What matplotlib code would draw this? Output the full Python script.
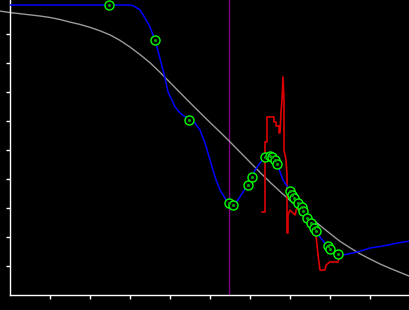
import matplotlib
matplotlib.use("Agg")
import matplotlib.pyplot as plt

# grey sigmoid reference curve
grey_x = [-0.25, 0.0, 0.25, 0.5, 0.75, 1.0, 1.25, 1.5, 1.75, 2.0, 2.25, 2.5, 2.75,
          3.0, 3.25, 3.5, 3.75, 4.0, 4.25, 4.5, 4.75, 5.0, 5.25, 5.5, 5.75, 6.0,
          6.25, 6.5, 6.75, 7.0, 7.25, 7.5, 7.75, 8.0, 8.25, 8.5, 8.75, 9.0, 9.25,
          9.5, 9.75, 10.0]
grey_y = [9.79, 9.74, 9.70, 9.66, 9.62, 9.57, 9.50, 9.41, 9.33, 9.23, 9.11, 8.97, 8.78,
          8.55, 8.29, 8.01, 7.68, 7.33, 6.98, 6.63, 6.29, 5.95, 5.62, 5.28, 4.93, 4.58,
          4.23, 3.89, 3.57, 3.26, 2.96, 2.68, 2.40, 2.12, 1.85, 1.63, 1.42, 1.24, 1.07,
          0.92, 0.78, 0.64]

# blue smooth curve
blue_x = [0.0, 2.875, 3.0, 3.075, 3.25, 3.375, 3.5, 3.625, 3.725, 3.825, 3.875, 3.95, 4.05,
          4.125, 4.25, 4.35, 4.425, 4.475, 4.625, 4.75, 4.875, 5.0, 5.125, 5.25, 5.375, 5.475,
          5.575, 5.7, 5.825, 5.95, 6.05, 6.125, 6.25, 6.35, 6.45, 6.55, 6.675, 6.825,
          7.0, 7.2, 7.425, 7.65, 7.75, 7.875, 7.975, 8.075, 8.2, 8.325, 8.675, 9.0,
          9.325, 9.675, 10.0]
blue_y = [10.0, 10.0, 9.995, 9.98, 9.83, 9.55, 9.24, 8.79, 8.28, 7.76, 7.48, 7.0, 6.72,
          6.48, 6.28, 6.17, 6.10, 6.03, 5.93, 5.69, 5.24, 4.66, 4.07, 3.62, 3.34, 3.17,
          3.07, 3.28, 3.55, 3.79, 4.03, 4.31, 4.55, 4.72, 4.79, 4.76, 4.52, 3.97,
          3.59, 3.17, 2.66, 2.21, 2.0, 1.79, 1.62, 1.48, 1.41, 1.38, 1.48, 1.62,
          1.69, 1.79, 1.86]

# green sample points
pts_x = [2.475, 3.625, 4.475, 5.475, 5.575, 5.95, 6.05, 6.375, 6.5, 6.55, 6.625, 6.675,
         7.0, 7.05, 7.1, 7.2, 7.3, 7.325, 7.425, 7.525, 7.6, 7.65, 7.95, 8.0, 8.2]
pts_y = [10.0, 8.793, 6.034, 3.172, 3.103, 3.793, 4.069, 4.759, 4.793, 4.759, 4.655, 4.517,
         3.586, 3.448, 3.345, 3.172, 3.034, 2.897, 2.655, 2.483, 2.31, 2.21, 1.69, 1.586, 1.414]

# red jagged series
red_x = [6.3, 6.375, 6.375, 6.425, 6.425, 6.6, 6.6, 6.65, 6.65, 6.725, 6.725, 6.75,
         6.775, 6.8, 6.825, 6.85, 6.85, 6.9, 6.925, 6.925, 6.95, 6.95, 7.0, 7.125,
         7.175, 7.25, 7.325, 7.4, 7.475, 7.575, 7.65, 7.7, 7.75, 7.875, 7.9, 8.0,
         8.2, 8.225]
red_y = [2.86, 2.86, 5.28, 5.28, 6.14, 6.14, 5.97, 5.97, 5.83, 5.83, 5.59, 5.59,
         6.28, 6.72, 7.52, 6.72, 5.0, 4.66, 4.14, 2.14, 2.14, 2.76, 2.93, 2.76,
         3.03, 2.86, 3.10, 2.83, 2.52, 2.38, 2.07, 1.38, 0.86, 0.86, 1.03, 1.14,
         1.14, 1.28]

vline_x = 5.475
x_ticks = [1, 2, 3, 4, 5, 6, 7, 8, 9]
y_ticks = [1, 2, 3, 4, 5, 6, 7, 8, 9]

fig = plt.figure(figsize=(4.1, 3.1), dpi=100, facecolor="black")
ax = fig.add_axes([10 / 410, 15 / 310, 400 / 410, 295 / 310])
ax.set_facecolor("black")

ax.axvline(vline_x, color="#800080", lw=1.0, zorder=1)
ax.plot(grey_x, grey_y, color="#9a9a9a", lw=1.0, clip_on=False, zorder=2)
ax.plot(red_x, red_y, color="#dd0000", lw=1.2, zorder=3)
ax.plot(blue_x, blue_y, color="#0000ff", lw=1.1, zorder=4)
ax.plot(pts_x, pts_y, linestyle="none", marker="o", markersize=6.5,
        markerfacecolor="black", markeredgecolor="#00ff00", markeredgewidth=1.0, zorder=5)
ax.plot(pts_x, pts_y, linestyle="none", marker="o", markersize=1.2,
        markerfacecolor="#00aa00", markeredgecolor="#00aa00", zorder=6)

ax.set_xlim(0, 10)
ax.set_ylim(0, 295 / 29)
ax.set_xticks(x_ticks)
ax.set_yticks(y_ticks)
ax.set_xticklabels([])
ax.set_yticklabels([])
ax.tick_params(colors="white", length=3, width=1, direction="out")
for s in ["top", "right"]:
    ax.spines[s].set_visible(False)
for s in ["left", "bottom"]:
    ax.spines[s].set_color("white")
    ax.spines[s].set_linewidth(1.0)

fig.savefig("out.png", dpi=100, facecolor="black")
